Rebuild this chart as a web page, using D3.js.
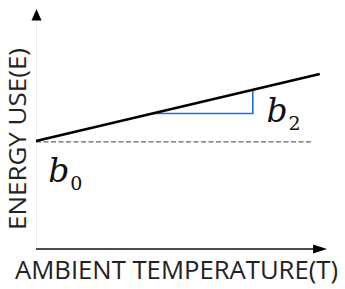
<!DOCTYPE html>
<html>
<head>
<meta charset="utf-8">
<script src="https://cdn.jsdelivr.net/npm/d3@7"></script>
<style>
  body { margin: 0; background: #fff; }
</style>
</head>
<body>
<div id="chart"></div>
<script>
// (arbitrary units, 0..100 on both axes)
const lineT = [0, 97.5]
const lineE = [45.2, 73.2]
const b0 = 45.2
const baseT = [0, 95]
const slopeT = [40, 74.5]
const xLabel = 'AMBIENT TEMPERATURE(T)'
const yLabel = 'ENERGY USE(E)'

const fullWidth = 345,
  fullHeight = 289

const svg = d3.select('#chart')
  .append('svg')
    .attr('width', fullWidth)
    .attr('height', fullHeight)

const x = d3.scaleLinear().domain([0, 100]).range([36, 327])
const y = d3.scaleLinear().domain([0, 100]).range([249, 10])

const slope = (lineE[1] - lineE[0]) / (lineT[1] - lineT[0])
const energy = t => b0 + slope * t

// faint y axis
svg.append('line')
  .attr('x1', x(0) + 0.5).attr('x2', x(0) + 0.5)
  .attr('y1', y(96)).attr('y2', y(0))
  .attr('stroke', '#eeeeee')
  .attr('stroke-width', 1)

// y arrow head
svg.append('path')
  .attr('d', `M${x(0) + 0.5},${y(100) - 1} L${x(0) + 5.5},${y(96) + 1} L${x(0) - 4.5},${y(96) + 1} Z`)
  .attr('fill', '#000')

// x axis
svg.append('line')
  .attr('x1', x(0)).attr('x2', x(96))
  .attr('y1', y(0)).attr('y2', y(0))
  .attr('stroke', '#111')
  .attr('stroke-width', 1.5)

svg.append('path')
  .attr('d', `M${x(100)},${y(0)} L${x(95.2)},${y(0) - 4.5} L${x(95.2)},${y(0) + 4.5} Z`)
  .attr('fill', '#000')

// dashed b0 baseline
svg.append('line')
  .attr('x1', x(baseT[0])).attr('x2', x(baseT[1]))
  .attr('y1', y(b0) + 1).attr('y2', y(b0) + 1)
  .attr('stroke', '#666')
  .attr('stroke-width', 1.2)
  .attr('stroke-dasharray', '5,2.5')

// blue slope triangle
svg.append('path')
  .attr('d', d3.line()([
    [x(slopeT[0]), y(energy(slopeT[0]))],
    [x(slopeT[1]), y(energy(slopeT[0]))],
    [x(slopeT[1]), y(energy(slopeT[1]))]
  ]))
  .attr('fill', 'none')
  .attr('stroke', '#1f6fe8')
  .attr('stroke-width', 1.6)

// regression line
svg.append('path')
  .attr('d', d3.line()(lineT.map((t, i) => [x(t), y(lineE[i])])))
  .attr('stroke', '#000')
  .attr('stroke-width', 2.6)
  .attr('fill', 'none')

// b labels
function coef (px, py, sub) {
  const t = svg.append('text')
    .attr('x', px).attr('y', py)
    .attr('font-family', '"DejaVu Serif", "Liberation Serif", serif')
    .attr('fill', '#111')
  t.append('tspan')
    .attr('font-style', 'italic')
    .attr('font-size', 33)
    .text('b')
  t.append('tspan')
    .attr('font-size', 19)
    .attr('dy', 8)
    .attr('dx', 1)
    .text(sub)
}
coef(x(79.2), y(energy(74.5)) + 32, '2')
coef(x(4.2), y(b0) + 41, '0')

// axis titles
svg.append('text')
  .attr('x', 15).attr('y', 279)
  .attr('font-family', '"Open Sans", sans-serif')
  .attr('font-size', 25)
  .attr('fill', '#222')
  .attr('textLength', 323)
  .attr('lengthAdjust', 'spacingAndGlyphs')
  .text(xLabel)

svg.append('text')
  .attr('transform', 'translate(26,139) rotate(-90)')
  .attr('text-anchor', 'middle')
  .attr('font-family', '"Open Sans", sans-serif')
  .attr('font-size', 24)
  .attr('fill', '#222')
  .attr('textLength', 182)
  .attr('lengthAdjust', 'spacingAndGlyphs')
  .text(yLabel)
</script>
</body>
</html>
